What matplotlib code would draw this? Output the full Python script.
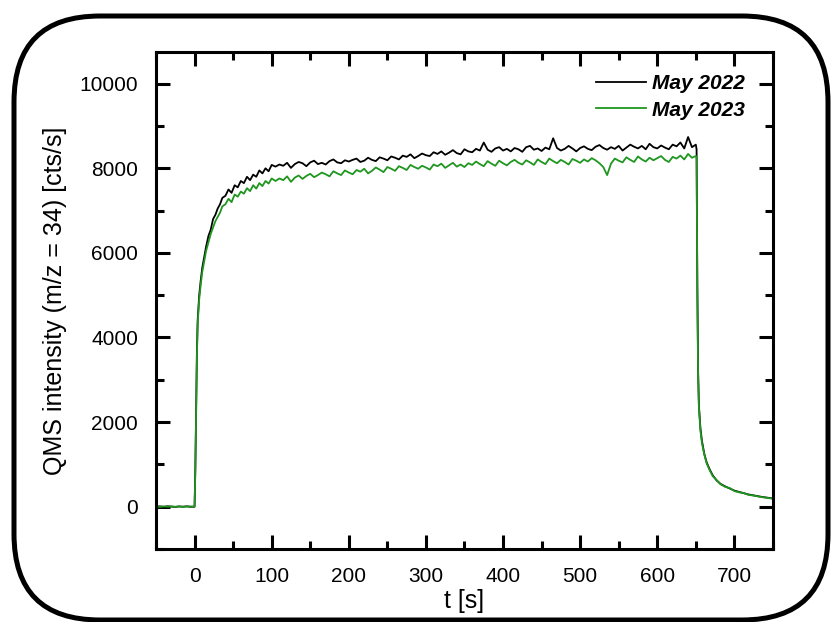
import numpy as np
import matplotlib
matplotlib.use("Agg")
import matplotlib.pyplot as plt
from matplotlib.patches import FancyBboxPatch
from matplotlib.ticker import MultipleLocator

plt.rcParams["font.family"] = ["Liberation Sans", "DejaVu Sans"]

# sampling times [s]
t_pre = [-50, -45, -40, -35, -30, -25, -20, -15, -10, -5, 0]
t_rise = [1, 2, 3, 4, 6, 8, 10, 12, 15, 18, 21, 24, 27, 30, 33, 36, 40, 44,
          48, 52, 56, 60, 64, 68, 72, 76, 80, 84, 88, 92, 96, 100]
t_plateau = list(range(105, 651, 5))
t_drop = [651, 652, 653, 654, 656, 658, 661, 664, 668, 672, 677, 682, 688,
          694, 700, 706, 712, 718, 724, 730, 736, 742, 748, 750]

# May 2022 (black)
pre_2022 = [0, 8, -5, 10, 3, -6, 5, 0, 9, -4, 0]
rise_2022 = [900, 2200, 3600, 4400, 5000, 5350, 5650, 5850, 6150, 6400, 6550,
             6800, 6900, 7050, 7150, 7300, 7350, 7500, 7420, 7600, 7550, 7700,
             7650, 7800, 7720, 7850, 7800, 7950, 7880, 8000, 7930, 8080]
plateau_2022 = [8040, 8090, 8060, 8130, 8010, 8100, 8150, 8120, 8050, 8140,
                8180, 8100, 8130, 8090, 8170, 8210, 8140, 8120, 8190, 8160,
                8200, 8230, 8150, 8180, 8250, 8200, 8170, 8260, 8230, 8190,
                8280, 8250, 8210, 8300, 8270, 8330, 8240, 8290, 8350, 8310,
                8290, 8380, 8340, 8400, 8320, 8370, 8430, 8360, 8330, 8450,
                8400, 8380, 8460, 8420, 8610, 8440, 8390, 8470, 8500, 8420,
                8460, 8400, 8480, 8450, 8390, 8500, 8530, 8440, 8470, 8410,
                8490, 8450, 8710, 8480, 8420, 8460, 8530, 8470, 8400, 8480,
                8520, 8460, 8430, 8510, 8550, 8480, 8440, 8500, 8460, 8530,
                8420, 8490, 8560, 8510, 8470, 8530, 8450, 8580, 8500, 8470,
                8540, 8490, 8450, 8560, 8520, 8610, 8470, 8740, 8500, 8560]
drop_2022 = [8450, 5200, 3200, 2400, 1850, 1550, 1250, 1050, 880, 740, 620,
             540, 480, 430, 380, 350, 320, 290, 270, 250, 230, 215, 200, 190]

# May 2023 (green)
pre_2023 = [4, -5, 7, 0, 6, -3, 8, -6, 3, 5, 0]
rise_2023 = [850, 2100, 3500, 4300, 4900, 5250, 5550, 5750, 6050, 6250, 6450,
             6600, 6750, 6850, 6950, 7100, 7150, 7280, 7200, 7380, 7330, 7450,
             7400, 7530, 7460, 7600, 7520, 7650, 7580, 7700, 7640, 7760]
plateau_2023 = [7700, 7760, 7720, 7810, 7680, 7780, 7830, 7750, 7820, 7870,
                7790, 7840, 7900, 7860, 7810, 7930, 7880, 7840, 7950, 7900,
                7860, 7960, 7920, 7990, 7880, 7940, 8020, 7970, 7910, 8030,
                7990, 7940, 8050, 8010, 7960, 8080, 8030, 7990, 8060, 8020,
                7970, 8090, 8050, 8110, 8010, 8070, 8130, 8040, 8090, 8030,
                8120, 8080, 8160, 8100, 8050, 8170, 8110, 8060, 8180, 8120,
                8070, 8150, 8200, 8130, 8090, 8190, 8140, 8080, 8210, 8150,
                8100, 8230, 8170, 8120, 8200, 8150, 8090, 8220, 8180, 8130,
                8210, 8160, 8240, 8190, 8120, 8030, 7840, 8110, 8230, 8180,
                8140, 8260, 8200, 8150, 8280, 8210, 8160, 8250, 8190, 8240,
                8290, 8200, 8150, 8270, 8230, 8300, 8210, 8340, 8250, 8290]
drop_2023 = [8280, 5000, 3100, 2350, 1800, 1500, 1230, 1030, 860, 720, 630,
             530, 470, 440, 370, 340, 325, 280, 265, 245, 225, 210, 195, 185]

t = np.array(t_pre + t_rise + t_plateau + t_drop)
y_2022 = np.array(pre_2022 + rise_2022 + plateau_2022 + drop_2022)
y_2023 = np.array(pre_2023 + rise_2023 + plateau_2023 + drop_2023)

fig = plt.figure(figsize=(8.32, 6.22), dpi=100)
ax = fig.add_axes([0.1875, 0.1174, 0.7415, 0.799])

ax.plot(t, y_2022, color="black", lw=1.3, label="May 2022")
ax.plot(t, y_2023, color="#1f961f", lw=1.3, label="May 2023")

ax.set_xlim(-50, 750)
ax.set_ylim(-1000, 10750)
ax.xaxis.set_major_locator(MultipleLocator(100))
ax.xaxis.set_minor_locator(MultipleLocator(50))
ax.yaxis.set_major_locator(MultipleLocator(2000))
ax.yaxis.set_minor_locator(MultipleLocator(1000))
ax.tick_params(which="both", direction="in", top=True, right=True,
               width=2.2, labelsize=15, pad=13, colors="black")
ax.tick_params(which="major", length=10)
ax.tick_params(which="minor", length=6)
for s in ax.spines.values():
    s.set_linewidth(2.2)

ax.set_xlabel("t [s]", fontsize=18, labelpad=2)
ax.set_ylabel("QMS intensity (m/z = 34) [cts/s]", fontsize=18, labelpad=9)

leg = ax.legend(loc="upper right", bbox_to_anchor=(0.968, 0.972),
                frameon=False, handlelength=2.4, handletextpad=0.3,
                labelspacing=0.35, borderaxespad=0,
                prop={"size": 15, "weight": "bold", "style": "italic"})

box = FancyBboxPatch((0.14, 0.02), 8.14, 6.04,
                     boxstyle="round,pad=0,rounding_size=0.86",
                     transform=fig.dpi_scale_trans, fill=False,
                     lw=3.6, ec="black")
fig.patches.append(box)

fig.savefig("out.png", dpi=100)
